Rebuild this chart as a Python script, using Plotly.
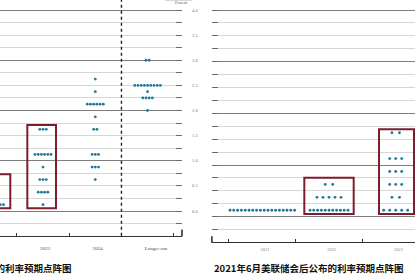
import plotly.graph_objects as go

# ---------------- data ----------------
# Left panel: later dot plot (cropped), categories incl. 2024 and longer run
left_categories = ["2021", "2022", "2023", "2024", "Longer run"]
left_2021_rates = [0.125]
left_2021_counts = [18]
left_2022_rates = [0.125, 0.375, 0.625]
left_2022_counts = [9, 6, 3]
left_2023_rates = [0.125, 0.375, 0.625, 0.875, 1.125, 1.625]
left_2023_counts = [1, 4, 3, 1, 6, 3]
left_2024_rates = [0.625, 0.875, 1.125, 1.625, 1.875, 2.125, 2.375, 2.625]
left_2024_counts = [1, 3, 3, 2, 1, 6, 1, 1]
left_lr_rates = [2.0, 2.25, 2.375, 2.5, 3.0]
left_lr_counts = [1, 4, 1, 9, 2]
left_title = "2021年9月美联储会后公布的利率预期点阵图"

# Right panel: June 2021 dot plot
right_categories = ["2021", "2022", "2023"]
right_2021_rates = [0.125]
right_2021_counts = [18]
right_2022_rates = [0.125, 0.375, 0.625]
right_2022_counts = [11, 5, 2]
right_2023_rates = [0.125, 0.375, 0.625, 0.875, 1.125, 1.625]
right_2023_counts = [5, 2, 3, 3, 3, 2]
right_title = "2021年6月美联储会后公布的利率预期点阵图"

y_tick_values = [0.0, 0.5, 1.0, 1.5, 2.0, 2.5, 3.0, 3.5, 4.0]
y_major_grid = [0, 1, 2, 3, 4]

# ---------------- geometry helpers ----------------
W, H = 415, 280
def pxx(p):
    return p / W
def pxy(p):
    return (H - p) / H

LEFT_PX_PER_CAT = 52.3
RIGHT_PX_PER_CAT = 66.7

def left_spacing(n):
    return 3.2

def right_spacing(n):
    if n <= 2:
        return 7.5
    if n <= 5:
        return 6.0
    return 3.8

def build_dots(columns, px_per_cat, spacing_fn):
    xs, ys = [], []
    for ci, (rates, counts) in enumerate(columns):
        for r, n in zip(rates, counts):
            sp = spacing_fn(n)
            for k in range(n):
                xs.append(ci + (k - (n - 1) / 2) * sp / px_per_cat)
                ys.append(r)
    return xs, ys

lx, ly = build_dots(
    [(left_2021_rates, left_2021_counts), (left_2022_rates, left_2022_counts),
     (left_2023_rates, left_2023_counts), (left_2024_rates, left_2024_counts),
     (left_lr_rates, left_lr_counts)],
    LEFT_PX_PER_CAT, left_spacing)
rx, ry = build_dots(
    [(right_2021_rates, right_2021_counts), (right_2022_rates, right_2022_counts),
     (right_2023_rates, right_2023_counts)],
    RIGHT_PX_PER_CAT, right_spacing)

DOT = "#1f7896"
BOX = "#7b1d2c"

# axis ranges from pixel geometry
l_x0 = 2 - 43 / LEFT_PX_PER_CAT
l_x1 = 2 + (182 - 43) / LEFT_PX_PER_CAT
r_x0 = 0 - (262.3 - 211.7) / RIGHT_PX_PER_CAT
r_x1 = 0 + (415 - 262.3) / RIGHT_PX_PER_CAT
l_unit = (211 - 10) / 4.0
r_unit = (216.7 - 10) / 4.0
l_yrange = [-(235.7 - 211) / l_unit, 4 + 5 / l_unit]
r_yrange = [-(242.3 - 216.7) / r_unit, 4 + 5 / r_unit]

fig = go.Figure()
# empty traces so the overlay axes (whole-number gridlines) exist
fig.add_trace(go.Scatter(x=[], y=[], xaxis="x", yaxis="y3", showlegend=False,
                         hoverinfo="skip"))
fig.add_trace(go.Scatter(x=[], y=[], xaxis="x2", yaxis="y4", showlegend=False,
                         hoverinfo="skip"))
fig.add_trace(go.Scatter(x=lx, y=ly, mode="markers", xaxis="x", yaxis="y",
                         marker=dict(size=2.8, color=DOT), hoverinfo="skip",
                         showlegend=False))
fig.add_trace(go.Scatter(x=rx, y=ry, mode="markers", xaxis="x2", yaxis="y2",
                         marker=dict(size=2.8, color=DOT), hoverinfo="skip",
                         showlegend=False))

left_label_pos = [i + (0.16 if c == "Longer run" else 0.04) for i, c in enumerate(left_categories)]
right_label_pos = [i + 0.04 for i in range(len(right_categories))]

grid_light = "#d6d6d6"
grid_dark = "#7d7d7d"
tick_col = "#6a6a6a"

common_y = dict(zeroline=False, showline=False, tickmode="array",
                tickvals=y_tick_values, ticktext=[f"{v:.1f}" for v in y_tick_values],
                ticks="inside", ticklen=6, tickwidth=1.2, tickcolor=tick_col,
                showgrid=True, gridcolor=grid_light, gridwidth=1,
                minor=dict(tickmode="linear", tick0=0, dtick=0.25, ticks="inside",
                           ticklen=6, tickwidth=1.2, tickcolor=tick_col,
                           showgrid=True, gridcolor=grid_light, gridwidth=1))
overlay_y = dict(tickmode="array", tickvals=y_major_grid, showticklabels=False,
                 ticks="", showgrid=True, gridcolor=grid_dark, gridwidth=1.2,
                 zeroline=False, showline=False)

fig.update_layout(
    width=W, height=H, margin=dict(l=0, r=0, t=0, b=0),
    paper_bgcolor="white", plot_bgcolor="white",
    xaxis=dict(domain=[0, pxx(182)], range=[l_x0, l_x1], anchor="y",
               showgrid=False, zeroline=False, showline=True, linecolor="#333",
               linewidth=1, tickmode="array", tickvals=left_label_pos,
               ticktext=left_categories, ticks="", ticklabelstandoff=7,
               tickfont=dict(family="Liberation Serif", size=5, color="#444"),
               minor=dict(tickmode="array", tickvals=[0.5, 1.5, 2.5, 3.5, 4.5],
                          ticks="inside", ticklen=3, tickwidth=1, tickcolor="#333",
                          showgrid=False)),
    yaxis=dict(domain=[pxy(235.7), pxy(5)], range=l_yrange,
               anchor="x", side="right", showticklabels=True,
               ticklabelstandoff=9,
               tickfont=dict(family="Liberation Serif", size=4.5, color="#777"),
               **common_y),
    yaxis3=dict(overlaying="y", anchor="x", side="right", range=l_yrange, **overlay_y),
    xaxis2=dict(domain=[pxx(211.7), 1], range=[r_x0, r_x1], anchor="y2",
                showgrid=False, zeroline=False, showline=True, linecolor="#333",
                linewidth=1, tickmode="array", tickvals=right_label_pos,
                ticktext=right_categories, ticks="", ticklabelstandoff=2,
                tickfont=dict(family="Liberation Serif", size=4.5, color="#888"),
                minor=dict(tickmode="array", tickvals=[-0.5, 0.5, 1.5, 2.5],
                           ticks="inside", ticklen=3, tickwidth=1, tickcolor="#333",
                           showgrid=False)),
    yaxis2=dict(domain=[pxy(242.3), pxy(5)], range=r_yrange,
                anchor="x2", side="left", showticklabels=False,
                **common_y),
    yaxis4=dict(overlaying="y2", anchor="x2", side="left", range=r_yrange, **overlay_y),
)

shapes = []
# dotted separator before longer run
shapes.append(dict(type="line", xref="x", yref="paper", x0=3.5, x1=3.5,
                   y0=pxy(235.7), y1=1.0,
                   line=dict(color="#222", width=1.4, dash="dot"), layer="above"))
# end ticks of the x axes
shapes.append(dict(type="line", xref="paper", yref="paper", x0=pxx(182), x1=pxx(182),
                   y0=pxy(236.2), y1=pxy(229.5), line=dict(color="#222", width=1.5)))
shapes.append(dict(type="line", xref="paper", yref="paper", x0=pxx(211.9), x1=pxx(211.9),
                   y0=pxy(242.8), y1=pxy(236.2), line=dict(color="#222", width=1.5)))
# highlight boxes
boxes = [("x", "y", 0.60, 1.375, 0.054, 0.73),
         ("x", "y", 1.70, 2.249, 0.054, 1.71),
         ("x2", "y2", 0.63, 1.37, 0.05, 0.754),
         ("x2", "y2", 1.75, 2.274, 0.05, 1.69)]
for xr, yr, x0, x1, y0, y1 in boxes:
    shapes.append(dict(type="rect", xref=xr, yref=yr, x0=x0, x1=x1, y0=y0, y1=y1,
                       line=dict(color=BOX, width=2), fillcolor="rgba(0,0,0,0)",
                       layer="above"))
# faint frame line above "Percent"
shapes.append(dict(type="line", xref="paper", yref="paper", x0=pxx(165), x1=pxx(192),
                   y0=pxy(0.5), y1=pxy(0.5), line=dict(color="#d8d8d8", width=1)))
fig.update_layout(shapes=shapes)

fig.add_annotation(x=pxx(181), y=pxy(2.6), xref="paper", yref="paper",
                   text="Percent", showarrow=False, xanchor="center", yanchor="middle",
                   font=dict(family="Liberation Serif", size=4, color="#555"))
fig.add_annotation(x=pxx(212.3), y=pxy(268.3), xref="paper", yref="paper",
                   text="<b>" + right_title + "</b>", showarrow=False,
                   xanchor="left", yanchor="middle",
                   font=dict(family="Noto Sans CJK SC", size=9.5, color="#111"))
fig.add_annotation(x=pxx(74), y=pxy(268.3), xref="paper", yref="paper",
                   text="<b>" + left_title + "</b>", showarrow=False,
                   xanchor="right", yanchor="middle",
                   font=dict(family="Noto Sans CJK SC", size=9.5, color="#111"))

fig.write_html("out.html")
